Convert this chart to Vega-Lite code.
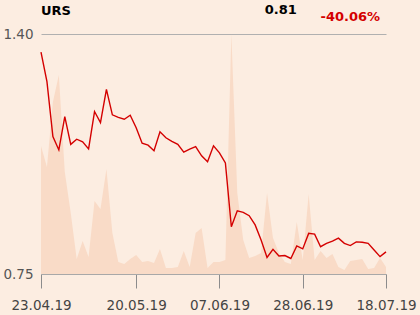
{
  "$schema": "https://vega.github.io/schema/vega-lite/v6.json",
  "width": 345,
  "height": 240,
  "autosize": {"type": "none"},
  "padding": {"left": 41, "top": 34, "right": 34, "bottom": 41},
  "background": "#fcede1",
  "config": {
    "view": {"stroke": null},
    "font": "DejaVu Sans",
    "axisX": {
      "labelAngle": 0, "title": null, "grid": false,
      "domain": true, "domainColor": "#a8a8a8", "domainWidth": 1,
      "ticks": true, "tickColor": "#8c8c8c", "tickSize": 14, "tickWidth": 1,
      "labelPadding": 10, "labelFontSize": 13.5, "labelColor": "#444444",
      "labelFlush": false, "labelOverlap": false, "labelBound": false
    }
  },
  "data": {"values": [
    {"date": "2019-04-23", "price": 1.351, "vol": 128},
    {"date": "2019-04-24", "price": 1.271, "vol": 107},
    {"date": "2019-04-25", "price": 1.122, "vol": 172},
    {"date": "2019-04-26", "price": 1.086, "vol": 199},
    {"date": "2019-04-29", "price": 1.176, "vol": 102},
    {"date": "2019-04-30", "price": 1.101, "vol": 61},
    {"date": "2019-05-03", "price": 1.115, "vol": 15},
    {"date": "2019-05-06", "price": 1.108, "vol": 33},
    {"date": "2019-05-07", "price": 1.089, "vol": 17},
    {"date": "2019-05-08", "price": 1.190, "vol": 73},
    {"date": "2019-05-10", "price": 1.160, "vol": 65},
    {"date": "2019-05-13", "price": 1.250, "vol": 105},
    {"date": "2019-05-14", "price": 1.181, "vol": 41},
    {"date": "2019-05-15", "price": 1.174, "vol": 12},
    {"date": "2019-05-16", "price": 1.169, "vol": 10},
    {"date": "2019-05-17", "price": 1.180, "vol": 15},
    {"date": "2019-05-20", "price": 1.146, "vol": 19},
    {"date": "2019-05-21", "price": 1.104, "vol": 12},
    {"date": "2019-05-22", "price": 1.099, "vol": 13},
    {"date": "2019-05-23", "price": 1.084, "vol": 11},
    {"date": "2019-05-24", "price": 1.135, "vol": 25},
    {"date": "2019-05-27", "price": 1.119, "vol": 6},
    {"date": "2019-05-28", "price": 1.109, "vol": 6},
    {"date": "2019-05-29", "price": 1.101, "vol": 7},
    {"date": "2019-05-30", "price": 1.080, "vol": 23},
    {"date": "2019-05-31", "price": 1.088, "vol": 7},
    {"date": "2019-06-03", "price": 1.095, "vol": 41},
    {"date": "2019-06-04", "price": 1.070, "vol": 46},
    {"date": "2019-06-05", "price": 1.054, "vol": 6},
    {"date": "2019-06-06", "price": 1.097, "vol": 12},
    {"date": "2019-06-07", "price": 1.078, "vol": 12},
    {"date": "2019-06-10", "price": 1.051, "vol": 14},
    {"date": "2019-06-11", "price": 0.878, "vol": 240},
    {"date": "2019-06-13", "price": 0.921, "vol": 81},
    {"date": "2019-06-14", "price": 0.917, "vol": 34},
    {"date": "2019-06-17", "price": 0.908, "vol": 16},
    {"date": "2019-06-18", "price": 0.883, "vol": 18},
    {"date": "2019-06-19", "price": 0.842, "vol": 21},
    {"date": "2019-06-20", "price": 0.795, "vol": 81},
    {"date": "2019-06-21", "price": 0.817, "vol": 36},
    {"date": "2019-06-24", "price": 0.799, "vol": 21},
    {"date": "2019-06-25", "price": 0.800, "vol": 12},
    {"date": "2019-06-26", "price": 0.792, "vol": 10},
    {"date": "2019-06-27", "price": 0.826, "vol": 52},
    {"date": "2019-06-28", "price": 0.818, "vol": 14},
    {"date": "2019-07-01", "price": 0.860, "vol": 80},
    {"date": "2019-07-02", "price": 0.858, "vol": 14},
    {"date": "2019-07-03", "price": 0.824, "vol": 23},
    {"date": "2019-07-04", "price": 0.833, "vol": 16},
    {"date": "2019-07-05", "price": 0.839, "vol": 20},
    {"date": "2019-07-08", "price": 0.847, "vol": 7},
    {"date": "2019-07-09", "price": 0.833, "vol": 4},
    {"date": "2019-07-10", "price": 0.827, "vol": 13},
    {"date": "2019-07-11", "price": 0.837, "vol": 14},
    {"date": "2019-07-12", "price": 0.836, "vol": 15},
    {"date": "2019-07-15", "price": 0.833, "vol": 5},
    {"date": "2019-07-16", "price": 0.815, "vol": 6},
    {"date": "2019-07-17", "price": 0.797, "vol": 16},
    {"date": "2019-07-18", "price": 0.810, "vol": 7}
  ]},
  "encoding": {
    "x": {
      "field": "date", "type": "ordinal", "scale": {"type": "point", "padding": 0},
      "axis": {
        "values": ["2019-04-23", "2019-05-20", "2019-06-07", "2019-06-28", "2019-07-18"],
        "labelExpr": "substring(datum.value, 8, 10) + '.' + substring(datum.value, 5, 7) + '.' + substring(datum.value, 2, 4)"
      }
    }
  },
  "layer": [
    {
      "layer": [
        {
          "mark": {"type": "area", "color": "#f9dbc7", "interpolate": "linear"},
          "encoding": {
            "y": {"field": "vol", "type": "quantitative", "scale": {"domain": [0, 240], "nice": false}, "axis": null}
          }
        },
        {
          "data": {"values": [{"t": "URS", "d": "2019-04-23"}]},
          "mark": {"type": "text", "align": "left", "baseline": "alphabetic", "fontWeight": "bold", "fontSize": 13, "color": "#000000"},
          "encoding": {
            "x": {"field": "d", "type": "ordinal", "scale": {"type": "point", "padding": 0}, "axis": {
              "values": ["2019-04-23", "2019-05-20", "2019-06-07", "2019-06-28", "2019-07-18"],
              "labelExpr": "substring(datum.value, 8, 10) + '.' + substring(datum.value, 5, 7) + '.' + substring(datum.value, 2, 4)"
            }},
            "y": {"datum": 259, "type": "quantitative", "scale": {"domain": [0, 240], "nice": false}, "axis": null},
            "text": {"field": "t"}
          }
        },
        {
          "data": {"values": [{"t": "0.81", "d": "2019-06-27"}]},
          "mark": {"type": "text", "align": "right", "baseline": "alphabetic", "fontWeight": "bold", "fontSize": 13, "color": "#000000"},
          "encoding": {
            "x": {"field": "d", "type": "ordinal", "scale": {"type": "point", "padding": 0}, "axis": {
              "values": ["2019-04-23", "2019-05-20", "2019-06-07", "2019-06-28", "2019-07-18"],
              "labelExpr": "substring(datum.value, 8, 10) + '.' + substring(datum.value, 5, 7) + '.' + substring(datum.value, 2, 4)"
            }},
            "y": {"datum": 260, "type": "quantitative", "scale": {"domain": [0, 240], "nice": false}, "axis": null},
            "text": {"field": "t"}
          }
        },
        {
          "data": {"values": [{"t": "-40.06%", "d": "2019-07-17"}]},
          "mark": {"type": "text", "align": "right", "baseline": "alphabetic", "fontWeight": "bold", "fontSize": 13, "color": "#d40000"},
          "encoding": {
            "x": {"field": "d", "type": "ordinal", "scale": {"type": "point", "padding": 0}, "axis": {
              "values": ["2019-04-23", "2019-05-20", "2019-06-07", "2019-06-28", "2019-07-18"],
              "labelExpr": "substring(datum.value, 8, 10) + '.' + substring(datum.value, 5, 7) + '.' + substring(datum.value, 2, 4)"
            }},
            "y": {"datum": 253, "type": "quantitative", "scale": {"domain": [0, 240], "nice": false}, "axis": null},
            "text": {"field": "t"}
          }
        }
      ]
    },
    {
      "mark": {"type": "line", "color": "#d40000", "strokeWidth": 1.4, "interpolate": "linear"},
      "encoding": {
        "y": {
          "field": "price", "type": "quantitative",
          "scale": {"domain": [0.75, 1.4], "nice": false, "zero": false},
          "axis": {
            "values": [0.75, 1.4], "format": ".2f", "title": null,
            "grid": true, "gridColor": "#b0b0b0", "gridWidth": 1,
            "domain": false, "ticks": false,
            "labelPadding": 8, "labelFontSize": 13.5, "labelColor": "#555555"
          }
        }
      }
    }
  ],
  "resolve": {"scale": {"y": "independent"}}
}
